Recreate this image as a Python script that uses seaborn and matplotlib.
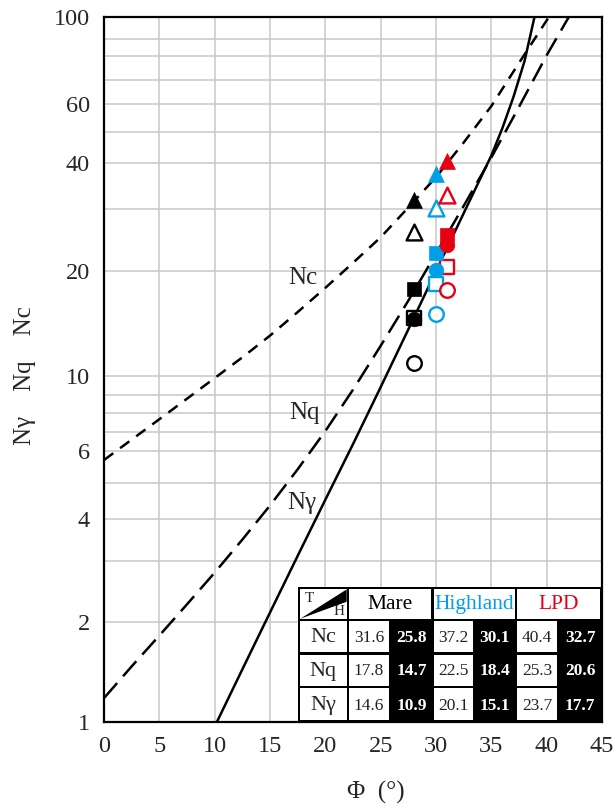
import matplotlib
matplotlib.use("Agg")
import matplotlib.pyplot as plt
import seaborn as sns
import numpy as np
import pandas as pd
from matplotlib.patches import Rectangle, Polygon

# ---------------- data ----------------
phi_nc = [0, 2.5, 5, 7.5, 10, 12.5, 15, 17.5, 20, 22.5, 25, 27.5, 30, 32.5, 35, 37.5, 40.2]
nc_curve = [5.69, 6.57, 7.65, 8.80, 9.88, 11.3, 13.05, 15.25, 17.9, 21.1, 24.9, 30.2, 36.5, 46.3, 59.2, 76.9, 100]

phi_nq = [0, 2.5, 5, 7.5, 10, 12.5, 15, 17.5, 20, 22.5, 25, 27.5, 30, 32.5, 35, 37.5, 40, 42.0]
nq_curve = [1.18, 1.47, 1.82, 2.25, 2.78, 3.47, 4.34, 5.40, 7.04, 9.28, 12.2, 16.45, 22.4, 30.5, 41.5, 58.9, 80.3, 100]

phi_ng = [10.2, 12.5, 15, 17.5, 20, 22.5, 25, 27.5, 30, 32.5, 35, 36, 37, 38, 38.9]
ng_curve = [1.0, 1.44, 2.13, 3.11, 4.50, 6.33, 9.41, 13.6, 20.0, 29.1, 42.1, 51.3, 62.8, 77.7, 100]

sites = ["Mare", "Highland", "LPD"]
site_phi = [28, 30, 31]
site_colors = ["#000000", "#00a0e9", "#e60012"]
nc_T = [31.6, 37.2, 40.4]
nc_H = [25.8, 30.1, 32.7]
nq_T = [17.8, 22.5, 25.3]
nq_H = [14.7, 18.4, 20.6]
ng_T = [14.6, 20.1, 23.7]
ng_H = [10.9, 15.1, 17.7]

y_ticks = [1, 2, 4, 6, 10, 20, 40, 60, 100]
x_ticks = [0, 5, 10, 15, 20, 25, 30, 35, 40, 45]
y_grid = [1, 2, 3, 4, 5, 6, 7, 8, 9, 10, 20, 30, 40, 50, 60, 70, 80, 90, 100]

# ---------------- style ----------------
sns.set_theme(style="white")
serif = ["Liberation Serif", "DejaVu Serif"]
plt.rcParams["font.family"] = serif

W, H = 613, 805
fig = plt.figure(figsize=(W / 100, H / 100), dpi=100)
ax_l, ax_r, ax_t, ax_b = 104, 602, 17, 722
ax = fig.add_axes([ax_l / W, 1 - ax_b / H, (ax_r - ax_l) / W, (ax_b - ax_t) / H])

# axis calibration: the reference's log axis is slightly irregular; these are the
# pixel rows of its grid lines (layout, not data)
grid_rows_px = [721.7, 621.7, 561.0, 518.3, 482.7, 450.5, 431.7, 412.7, 395.2, 375.7,
                271.0, 208.5, 162.5, 132.0, 104.0, 80.0, 55.8, 39.3, 17.0]
LG = np.log10(np.array(y_grid, float))
PG = ax_b - np.array(grid_rows_px)
s0 = (PG[1] - PG[0]) / (LG[1] - LG[0])
s1 = (PG[-1] - PG[-2]) / (LG[-1] - LG[-2])


def _fwd(v):
    v = np.asarray(v, float)
    with np.errstate(divide="ignore", invalid="ignore"):
        L = np.log10(np.where(v > 0, v, 1e-300))
    out = np.interp(L, LG, PG)
    out = np.where(L < LG[0], PG[0] + (L - LG[0]) * s0, out)
    out = np.where(L > LG[-1], PG[-1] + (L - LG[-1]) * s1, out)
    return out


def _inv(p):
    p = np.asarray(p, float)
    L = np.interp(p, PG, LG)
    L = np.where(p < PG[0], LG[0] + (p - PG[0]) / s0, L)
    L = np.where(p > PG[-1], LG[-1] + (p - PG[-1]) / s1, L)
    return 10.0 ** L


# curves
df_nc = pd.DataFrame({"phi": phi_nc, "N": nc_curve})
df_nq = pd.DataFrame({"phi": phi_nq, "N": nq_curve})
df_ng = pd.DataFrame({"phi": phi_ng, "N": ng_curve})
sns.lineplot(data=df_nc, x="phi", y="N", ax=ax, color="black", linewidth=1.8,
             linestyle=(0, (4.6, 3.4)), zorder=3)
sns.lineplot(data=df_nq, x="phi", y="N", ax=ax, color="black", linewidth=1.8,
             linestyle=(0, (8.0, 3.6)), zorder=3)
sns.lineplot(data=df_ng, x="phi", y="N", ax=ax, color="black", linewidth=1.8,
             linestyle="-", zorder=3)

# markers: open (H) first, then filled (T)
marker_sets = [("^", nc_T, nc_H, 130), ("s", nq_T, nq_H, 100), ("o", ng_T, ng_H, 110)]
for mk, tv, hv, sz in marker_sets:
    for i in range(3):
        sns.scatterplot(x=[site_phi[i]], y=[hv[i]], ax=ax, marker=mk, s=sz,
                        facecolor="white", edgecolor=site_colors[i], linewidth=1.7, zorder=4)
for mk, tv, hv, sz in marker_sets:
    for i in range(3):
        sns.scatterplot(x=[site_phi[i]], y=[tv[i]], ax=ax, marker=mk, s=sz,
                        color=site_colors[i], edgecolor=site_colors[i], linewidth=0.5, zorder=5)

ax.set_yscale("function", functions=(_fwd, _inv))
ax.set_xlim(0, 45)
ax.set_ylim(1, 100)

# grid / ticks
ax.set_yticks(y_grid, minor=True)
ax.set_yticks(y_ticks)
ax.set_yticklabels([str(v) for v in y_ticks])
ax.set_yticklabels([], minor=True)
ax.set_xticks(x_ticks)
ax.set_xticklabels([str(v) for v in x_ticks])
ax.grid(True, which="both", color="#c8c8c8", linewidth=1.1)
ax.set_axisbelow(True)
ax.tick_params(which="both", length=0, labelsize=17.5, pad=10)
for lab in ax.get_xticklabels() + ax.get_yticklabels():
    lab.set_family(serif)
for s in ax.spines.values():
    s.set_color("black")
    s.set_linewidth(1.6)

# curve labels
ax.text(18.0, 19.1, "Nc", fontsize=18, ha="center", va="center", family=serif, zorder=6)
ax.text(18.1, 8.0, "Nq", fontsize=18, ha="center", va="center", family=serif, zorder=6)
ax.text(17.9, 4.4, "Nγ", fontsize=18, ha="center", va="center", family=serif, zorder=6)

ax.set_xlabel("")
ax.set_ylabel("")
fig.text(376 / W, 1 - 792 / H, "Φ  (°)", fontsize=18, ha="center", va="center", family=serif)
fig.text(25 / W, 1 - 376 / H, "Nγ    Nq    Nc", fontsize=18, rotation=90,
         ha="center", va="center", family=serif)

# ---------------- table ----------------
t_l, t_r, t_t, t_b = 298, 602, 587, 722
tax = fig.add_axes([t_l / W, 1 - t_b / H, (t_r - t_l) / W, (t_b - t_t) / H])
tw, th = t_r - t_l, t_b - t_t
tax.set_xlim(0, tw)
tax.set_ylim(th, 0)
tax.axis("off")
tax.add_patch(Rectangle((0, 0), tw, th, facecolor="black", edgecolor="none"))

cols = [0, 50, 92, 134.7, 176, 218, 260, tw]
rows = [0, 33, 66.5, 100, th]
g = 1.3   # inner half gap
go = 2.4  # outer border


def white_cell(x0, x1, y0, y1):
    l = x0 + (go if x0 == 0 else g)
    r = x1 - (go if x1 == tw else g)
    t = y0 + (go if y0 == 0 else g)
    b = y1 - (go if y1 == th else g)
    tax.add_patch(Rectangle((l, t), r - l, b - t, facecolor="white", edgecolor="none"))
    return l, r, t, b


# corner header
l, r, t, b = white_cell(cols[0], cols[1], rows[0], rows[1])
tax.add_patch(Polygon([(l, b), (r, t), (r, t + (b - t) * 0.42)], closed=True,
                      facecolor="black", edgecolor="none"))
tax.text(l + 4, t + 9, "T", fontsize=11, ha="left", va="center", family=serif)
tax.text(r - 8, b - 7.5, "H", fontsize=11, ha="center", va="center", family=serif)

# site headers
for i, name in enumerate(sites):
    x0, x1 = cols[1 + 2 * i], cols[3 + 2 * i]
    white_cell(x0, x1, rows[0], rows[1])
    tax.text((x0 + x1) / 2, (rows[0] + rows[1]) / 2 + 1, name, fontsize=15.5,
             ha="center", va="center", color=site_colors[i], family=serif)

row_names = ["Nc", "Nq", "Nγ"]
row_T = [nc_T, nq_T, ng_T]
row_H = [nc_H, nq_H, ng_H]
for k in range(3):
    y0, y1 = rows[1 + k], rows[2 + k]
    yc = (y0 + y1) / 2 + 1
    white_cell(cols[0], cols[1], y0, y1)
    tax.text((cols[0] + cols[1]) / 2, yc, row_names[k], fontsize=16,
             ha="center", va="center", family=serif)
    for i in range(3):
        x0, x1 = cols[1 + 2 * i], cols[2 + 2 * i]
        white_cell(x0, x1, y0, y1)
        tax.text((x0 + x1) / 2, yc, f"{row_T[k][i]:.1f}", fontsize=12.5,
                 ha="center", va="center", family=serif, color="#222222")
        x0, x1 = cols[2 + 2 * i], cols[3 + 2 * i]
        tax.text((x0 + x1) / 2, yc, f"{row_H[k][i]:.1f}", fontsize=12.5,
                 ha="center", va="center", family=serif, color="white", fontweight="bold")

fig.savefig("out.png", dpi=100)
